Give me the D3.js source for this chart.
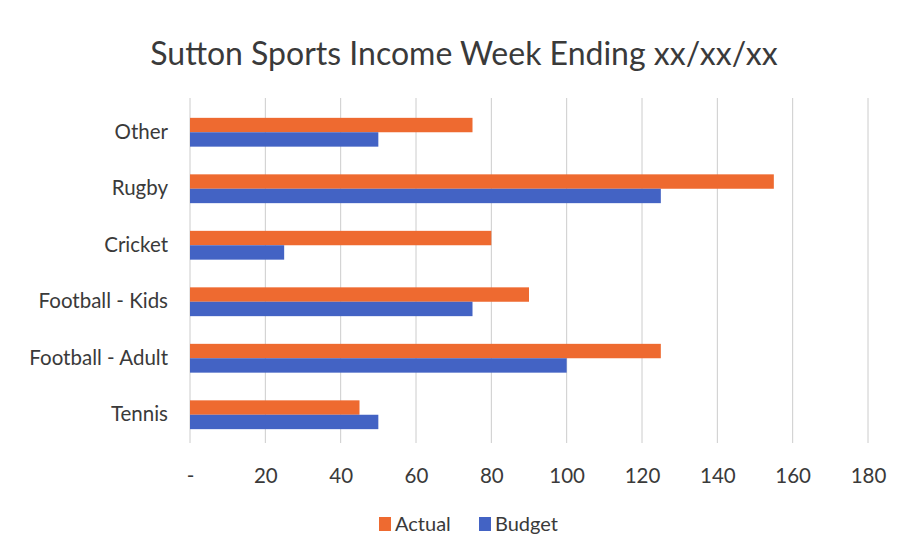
<!DOCTYPE html>
<html>
<head>
<meta charset="utf-8">
<script src="https://cdn.jsdelivr.net/npm/d3@7"></script>
<style>
  html, body { margin: 0; padding: 0; background: #fff; }
  svg { display: block; }
  text { font-family: Lato, "Open Sans", "Liberation Sans", sans-serif; fill: #3a3a3a; }
</style>
</head>
<body>
<svg id="chart" width="911" height="558"></svg>
<script>
// Weekly income by sport, actual versus budget
const categories = ["Other", "Rugby", "Cricket", "Football - Kids", "Football - Adult", "Tennis"];
const actual = [75, 155, 80, 90, 125, 45];
const budget = [50, 125, 25, 75, 100, 50];
const seriesNames = ["Actual", "Budget"];
const seriesColors = ["#EE6A30", "#4363C4"];
const xTicks = [0, 20, 40, 60, 80, 100, 120, 140, 160, 180];
const title = "Sutton Sports Income Week Ending xx/xx/xx";

const rows = categories.map((c, i) => ({ category: c, values: [actual[i], budget[i]] }));

const svg = d3.select("#chart");
const margin = { left: 190, right: 43, top: 104, bottom: 115 };
const W = 911, H = 558;

const x = d3.scaleLinear().domain([0, 180]).range([margin.left, W - margin.right]);
const y = d3.scaleBand().domain(categories).range([margin.top, H - margin.bottom]).paddingInner(0.49).paddingOuter(0.245);
const ySub = d3.scaleBand().domain([0, 1]).range([0, y.bandwidth()]);

// Title
svg.append("text")
  .attr("x", 464).attr("y", 65)
  .attr("text-anchor", "middle")
  .style("font-size", "32px")
  .text(title);

// Vertical gridlines
svg.append("g")
  .selectAll("line")
  .data(xTicks)
  .join("line")
  .attr("x1", d => x(d)).attr("x2", d => x(d))
  .attr("y1", margin.top - 6).attr("y2", H - margin.bottom)
  .attr("stroke", "#cccccc")
  .attr("stroke-width", 1);

// Bars
const groups = svg.append("g")
  .selectAll("g")
  .data(rows)
  .join("g")
  .attr("transform", d => `translate(0,${y(d.category)})`);

groups.selectAll("rect")
  .data(d => d.values.map((v, k) => ({ v, k })))
  .join("rect")
  .attr("x", x(0))
  .attr("y", d => ySub(d.k))
  .attr("width", d => x(d.v) - x(0))
  .attr("height", ySub.bandwidth())
  .attr("fill", d => seriesColors[d.k]);

// Category axis labels
const yAxis = d3.axisLeft(y).tickSize(0).tickPadding(22);
const gy = svg.append("g").attr("transform", `translate(${margin.left},0)`).call(yAxis);
gy.select(".domain").remove();
gy.selectAll("text").style("font-size", "20.5px").style("font-family", "Lato, 'Open Sans', sans-serif").attr("fill", "#3a3a3a");

// Value axis labels
const xAxis = d3.axisBottom(x).tickValues(xTicks).tickSize(0).tickPadding(24)
  .tickFormat(d => d === 0 ? "-" : d3.format("d")(d));
const gx = svg.append("g").attr("transform", `translate(0,${H - margin.bottom + 1})`).call(xAxis);
gx.select(".domain").remove();
gx.selectAll("text").style("font-size", "20.5px").style("font-family", "Lato, 'Open Sans', sans-serif").attr("fill", "#3a3a3a");

// Legend
const legend = svg.append("g").attr("transform", "translate(379,524)");
const legendX = [0, 100];
seriesNames.forEach((name, k) => {
  const g = legend.append("g").attr("transform", `translate(${legendX[k]},0)`);
  g.append("rect").attr("x", 0).attr("y", -7).attr("width", 12).attr("height", 14).attr("fill", seriesColors[k]);
  g.append("text").attr("x", 16).attr("y", 0).attr("dy", "0.35em").style("font-size", "20px").text(name);
});
</script>
</body>
</html>
